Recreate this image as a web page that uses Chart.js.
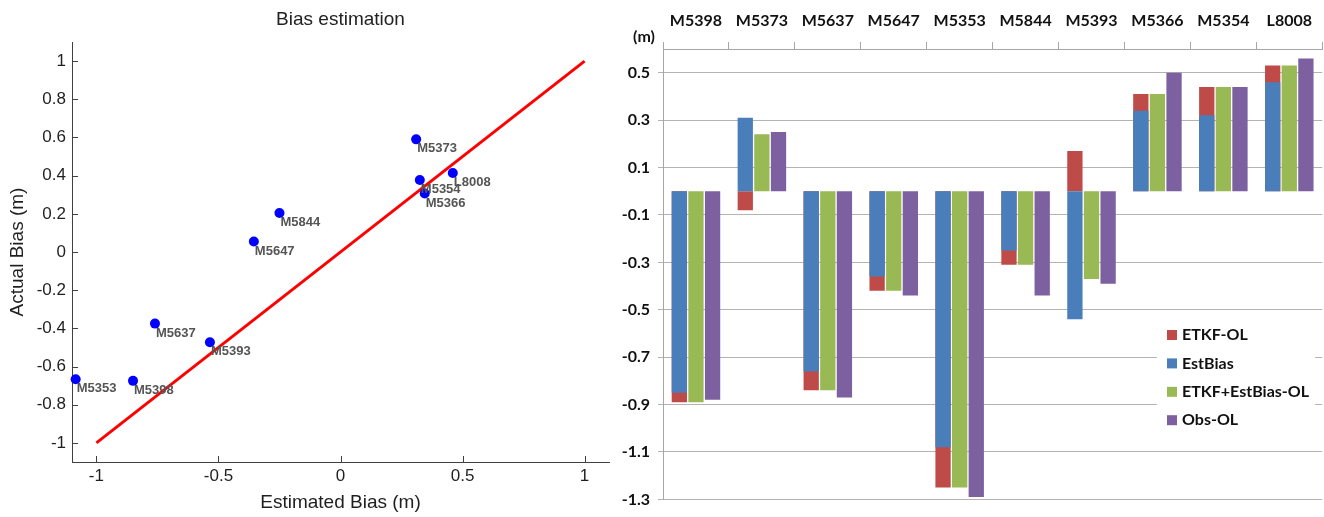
<!DOCTYPE html>
<html>
<head>
<meta charset="utf-8">
<script src="https://cdn.jsdelivr.net/npm/chart.js@4.4.1/dist/chart.umd.min.js"></script>
<style>
  html, body { margin: 0; padding: 0; background: #fff; overflow: hidden; }
  #wrap { position: relative; width: 1324px; height: 517px; }
  #scatter { position: absolute; left: 0; top: 0; }
  #bars { position: absolute; left: 615px; top: 0; }
</style>
</head>
<body>
<div id="wrap">
  <canvas id="scatter" width="615" height="517"></canvas>
  <canvas id="bars" width="709" height="517"></canvas>
</div>
<script>
// left panel: estimated vs actual bias per gauge
const gauges     = ['M5373', 'M5354', 'M5366', 'L8008', 'M5844', 'M5647', 'M5637', 'M5393', 'M5353', 'M5398'];
const estBias    = [0.31, 0.325, 0.345, 0.46, -0.25, -0.355, -0.76, -0.535, -1.085, -0.85];
const actualBias = [0.59, 0.377, 0.306, 0.414, 0.204, 0.055, -0.375, -0.473, -0.667, -0.675];
const lineX = [-1, 1];
const lineY = [-1, 1];
const scatterXTicks = [-1, -0.5, 0, 0.5, 1];
const scatterYTicks = [-1, -0.8, -0.6, -0.4, -0.2, 0, 0.2, 0.4, 0.6, 0.8, 1];

// right panel: bias per station (m)
const stations   = ['M5398', 'M5373', 'M5637', 'M5647', 'M5353', 'M5844', 'M5393', 'M5366', 'M5354', 'L8008'];
const etkfOL     = [-0.89, -0.08, -0.84, -0.42, -1.25, -0.31, 0.17, 0.41, 0.44, 0.53];
const estBiasBar = [-0.85, 0.31, -0.76, -0.36, -1.08, -0.25, -0.54, 0.34, 0.32, 0.46];
const etkfEstOL  = [-0.89, 0.24, -0.84, -0.42, -1.25, -0.31, -0.37, 0.41, 0.44, 0.53];
const obsOL      = [-0.88, 0.25, -0.87, -0.44, -1.29, -0.44, -0.39, 0.50, 0.44, 0.56];
const barYTicks  = [0.5, 0.3, 0.1, -0.1, -0.3, -0.5, -0.7, -0.9, -1.1, -1.3];

const sans = 'Liberation Sans';
const bold = 'Lato';

// ---------- scatter ----------
const innerTicks = {
  id: 'innerTicks',
  afterDraw(chart) {
    const {ctx, scales: {x, y}} = chart;
    ctx.save();
    ctx.strokeStyle = '#404040';
    ctx.lineWidth = 1;
    ctx.beginPath();
    x.ticks.forEach(t => {
      const px = Math.round(x.getPixelForValue(t.value)) + 0.5;
      ctx.moveTo(px, x.top);
      ctx.lineTo(px, x.top - 6);
    });
    y.ticks.forEach(t => {
      const py = Math.round(y.getPixelForValue(t.value)) + 0.5;
      ctx.moveTo(y.right, py);
      ctx.lineTo(y.right + 6, py);
    });
    ctx.stroke();
    ctx.restore();
  }
};

const areaTitle = {
  id: 'areaTitle',
  afterDraw(chart) {
    const {ctx, chartArea} = chart;
    ctx.save();
    ctx.font = '19px "' + sans + '"';
    ctx.fillStyle = '#222';
    ctx.textAlign = 'center';
    ctx.textBaseline = 'middle';
    ctx.fillText('Bias estimation', (chartArea.left + chartArea.right) / 2, 20);
    ctx.restore();
  }
};

const pointNames = {
  id: 'pointNames',
  afterDatasetsDraw(chart) {
    const ctx = chart.ctx;
    const meta = chart.getDatasetMeta(0);
    ctx.save();
    ctx.font = 'bold 13px "' + sans + '"';
    ctx.fillStyle = '#555';
    ctx.textAlign = 'left';
    ctx.textBaseline = 'top';
    meta.data.forEach((pt, i) => {
      ctx.fillText(gauges[i], pt.x + 1, pt.y + 3);
    });
    ctx.restore();
  }
};

new Chart(document.getElementById('scatter'), {
  type: 'scatter',
  data: {
    datasets: [{
      label: 'gauges',
      data: estBias.map((v, i) => ({x: v, y: actualBias[i]})),
      backgroundColor: '#0000ff',
      borderWidth: 0,
      pointRadius: 5,
      clip: false
    }, {
      label: '1:1',
      type: 'line',
      data: lineX.map((v, i) => ({x: v, y: lineY[i]})),
      borderColor: '#ff0000',
      borderWidth: 3,
      pointRadius: 0,
      fill: false
    }]
  },
  options: {
    responsive: false,
    animation: false,
    layout: { padding: { top: 42, right: 6, left: 0, bottom: 0 } },
    plugins: { legend: { display: false }, tooltip: { enabled: false } },
    scales: {
      x: {
        type: 'linear', min: -1.1, max: 1.1,
        afterBuildTicks: s => { s.ticks = scatterXTicks.map(v => ({value: v})); },
        grid: { display: false, drawTicks: false },
        border: { color: '#404040' },
        ticks: { font: { family: sans, size: 17 }, color: '#1f1f1f', padding: 4, callback: v => String(v) },
        title: { display: true, text: 'Estimated Bias (m)', font: { family: sans, size: 19 }, color: '#1f1f1f', padding: { top: 0, bottom: 3 } },
        afterFit: s => { s.height = 55; }
      },
      y: {
        type: 'linear', min: -1.1, max: 1.1,
        afterBuildTicks: s => { s.ticks = scatterYTicks.map(v => ({value: v})); },
        grid: { display: false, drawTicks: false },
        border: { color: '#404040' },
        ticks: { font: { family: sans, size: 17 }, color: '#1f1f1f', padding: 6, callback: v => String(v) },
        title: { display: true, text: 'Actual Bias (m)', font: { family: sans, size: 19 }, color: '#1f1f1f', padding: { top: 6, bottom: 0 } },
        afterFit: s => { s.width = 72; }
      }
    }
  },
  plugins: [innerTicks, areaTitle, pointNames]
});

// ---------- bars ----------
const unitLabel = {
  id: 'unitLabel',
  afterDraw(chart) {
    const ctx = chart.ctx;
    ctx.save();
    ctx.font = 'bold 16px "' + bold + '"';
    ctx.fillStyle = '#111';
    ctx.textAlign = 'center';
    ctx.textBaseline = 'middle';
    ctx.fillText('(m)', 29, 37);
    ctx.restore();
  }
};

const boxLegend = {
  id: 'boxLegend',
  beforeDatasetsDraw(chart) {
    const ctx = chart.ctx;
    const left = 542, top = 318;
    ctx.save();
    ctx.fillStyle = '#fff';
    ctx.fillRect(left, top, 158, 114);
    ctx.font = 'bold 16px "' + bold + '"';
    ctx.textAlign = 'left';
    ctx.textBaseline = 'middle';
    chart.data.datasets.forEach((ds, i) => {
      const yy = top + 17 + i * 28.4;
      ctx.fillStyle = ds.backgroundColor;
      ctx.fillRect(left + 10, yy - 5, 10, 10);
      ctx.fillStyle = '#111';
      ctx.fillText(ds.label, left + 25, yy);
    });
    ctx.restore();
  }
};

new Chart(document.getElementById('bars'), {
  type: 'bar',
  data: {
    labels: stations,
    datasets: [
      { label: 'ETKF-OL', data: etkfOL, backgroundColor: '#be4b48', stack: 'a', order: 1 },
      { label: 'EstBias', data: estBiasBar, backgroundColor: '#4a7ebb', stack: 'a', order: 0 },
      { label: 'ETKF+EstBias-OL', data: etkfEstOL, backgroundColor: '#98b954', stack: 'b', order: 2 },
      { label: 'Obs-OL', data: obsOL, backgroundColor: '#7d60a0', stack: 'c', order: 3 }
    ]
  },
  options: {
    responsive: false,
    animation: false,
    categoryPercentage: 0.756,
    barPercentage: 0.92,
    layout: { padding: { top: 0, right: 0, left: 0, bottom: 17 } },
    plugins: { legend: { display: false }, tooltip: { enabled: false } },
    scales: {
      x: {
        position: 'top',
        offset: true,
        grid: { offset: true, drawOnChartArea: false, tickLength: 7, color: '#a6a6a6' },
        border: { color: '#a6a6a6' },
        ticks: { font: { family: bold, size: 16, weight: 'bold' }, color: '#111', padding: 12, maxRotation: 0, autoSkip: false },
        afterFit: s => { s.height = 49; }
      },
      y: {
        min: -1.3, max: 0.6, stacked: false,
        afterBuildTicks: s => { s.ticks = barYTicks.map(v => ({value: v})); },
        grid: { color: '#b3b3b3', tickLength: 5 },
        border: { color: '#a6a6a6' },
        ticks: { font: { family: bold, size: 16, weight: 'bold' }, color: '#111', padding: 8, callback: v => String(v) },
        afterFit: s => { s.width = 48; }
      }
    }
  },
  plugins: [unitLabel, boxLegend]
});
</script>
</body>
</html>
